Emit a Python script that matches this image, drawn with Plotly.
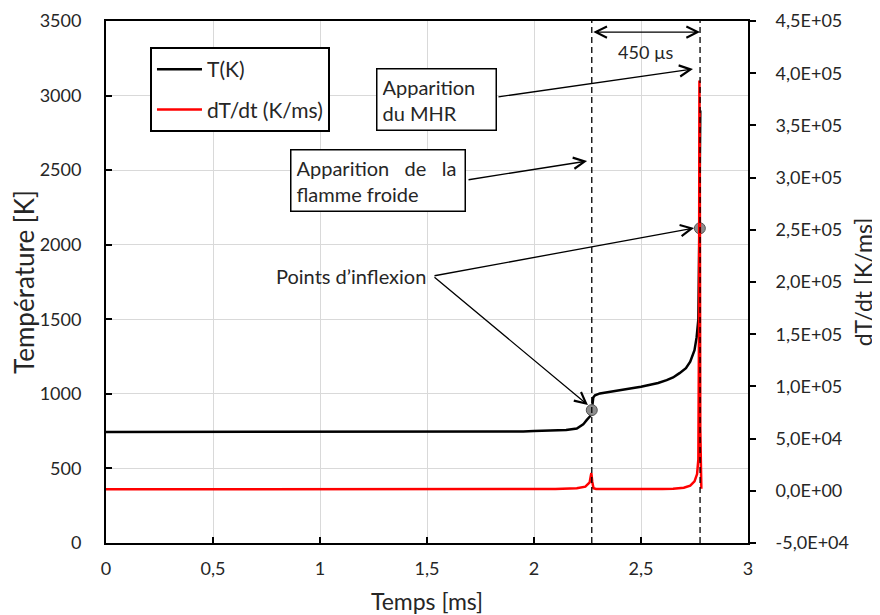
import plotly.graph_objects as go

# ---------------- data ----------------
t_T = [0.0, 0.5, 1.0, 1.5, 1.84, 1.95, 2.0, 2.1, 2.15, 2.2, 2.215, 2.23, 2.246, 2.262,
       2.27, 2.273, 2.277, 2.285, 2.308, 2.35, 2.386, 2.43, 2.464, 2.5, 2.54, 2.58,
       2.62, 2.65, 2.68, 2.71, 2.73, 2.75, 2.76, 2.768, 2.772, 2.775, 2.777]
T_vals = [745, 745, 745, 745, 746, 748, 751, 754, 757, 768, 780, 795, 824, 850,
          891, 945, 975, 990, 1003, 1012, 1019, 1029, 1039, 1048, 1059, 1073,
          1092, 1110, 1139, 1172, 1215, 1293, 1380, 1500, 2000, 2600, 2900]

t_dT = [0.0, 0.5, 1.0, 1.5, 2.0, 2.1, 2.2, 2.24, 2.26, 2.268, 2.272, 2.278, 2.29,
        2.4, 2.5, 2.6, 2.65, 2.7, 2.73, 2.75, 2.762, 2.768, 2.771, 2.773, 2.775,
        2.777, 2.779, 2.782]
dT_vals = [1500, 1500, 1500, 1500, 1600, 1800, 2500, 4000, 8000, 17000, 9000, 2500, 1800,
           1600, 1600, 1700, 2000, 3000, 5000, 9000, 16000, 30000, 150000, 393000, 300000,
           60000, 8000, 2000]

infl_t = [2.27, 2.775]
infl_T = [891, 2110]

x_tickvals = [0, 0.5, 1, 1.5, 2, 2.5, 3]
x_ticktext = ["0", "0,5", "1", "1,5", "2", "2,5", "3"]
y_tickvals = [0, 500, 1000, 1500, 2000, 2500, 3000, 3500]
y2_tickvals = [-50000, 0, 50000, 100000, 150000, 200000, 250000, 300000, 350000, 400000, 450000]
y2_ticktext = ["-5,0E+04", "0,0E+00", "5,0E+04", "1,0E+05", "1,5E+05", "2,0E+05",
               "2,5E+05", "3,0E+05", "3,5E+05", "4,0E+05", "4,5E+05"]

vlines_t = [2.27, 2.776]

FONT = "Lato"
TXT = "#262626"

fig = go.Figure()
fig.add_trace(go.Scatter(x=t_T, y=T_vals, mode="lines", name="T(K)", legendgroup="a",
                         line=dict(color="black", width=2.5)))
fig.add_trace(go.Scatter(x=t_dT, y=dT_vals, mode="lines", name="dT/dt (K/ms)", legendgroup="b",
                         line=dict(color="#FF0000", width=2.5), yaxis="y2"))
fig.add_trace(go.Scatter(x=infl_t, y=infl_T, mode="markers", showlegend=False,
                         marker=dict(color="#8C8C8C", size=11,
                                     line=dict(color="#555555", width=1))))

for vx in vlines_t:
    fig.add_shape(type="line", xref="x", yref="paper", x0=vx, x1=vx, y0=0, y1=1,
                  line=dict(color="black", width=1.3, dash="6px,4px"))

arrow = dict(showarrow=True, arrowhead=5, arrowsize=1.7, arrowwidth=1.3,
             arrowcolor="black", axref="x", ayref="y", xref="x", yref="y", text="")

ann = []
# double arrow 450 µs
ann.append(dict(arrow, x=vlines_t[1], y=3426, ax=vlines_t[0], ay=3426,
                arrowside="end+start", standoff=0, startstandoff=0))
ann.append(dict(x=(vlines_t[0] + vlines_t[1]) / 2, y=3290, xref="x", yref="y",
                text="450 µs", showarrow=False, font=dict(family=FONT, size=18, color=TXT)))
# MHR
ann.append(dict(arrow, x=2.743, y=3178, ax=1.827, ay=2990))
ann.append(dict(x=1.262, y=3185, xref="x", yref="y", xanchor="left", yanchor="top",
                text="Apparition<br>du MHR", showarrow=False, align="left",
                width=108,
                bordercolor="black", borderwidth=1.5, borderpad=5, bgcolor="white",
                font=dict(family=FONT, size=20, color=TXT)))
# flamme froide
ann.append(dict(arrow, x=2.248, y=2561, ax=1.687, ay=2434))
ann.append(dict(x=0.86, y=2640, xref="x", yref="y", xanchor="left", yanchor="top",
                text="Apparition\u00a0\u00a0 de\u00a0\u00a0 la<br>flamme froide",
                showarrow=False, align="left", width=163,
                bordercolor="black", borderwidth=1.5, borderpad=5, bgcolor="white",
                font=dict(family=FONT, size=20, color=TXT)))
# Points d'inflexion
ann.append(dict(arrow, x=2.252, y=925, ax=1.528, ay=1790))
ann.append(dict(arrow, x=2.748, y=2112, ax=1.528, ay=1790))
ann.append(dict(x=1.505, y=1790, xref="x", yref="y", xanchor="right", yanchor="middle",
                text="Points d\u2019inflexion", showarrow=False,
                font=dict(family=FONT, size=20, color=TXT)))

fig.update_layout(
    width=872, height=607,
    margin=dict(l=98, r=132, t=13, b=72),
    paper_bgcolor="white", plot_bgcolor="white",
    font=dict(family=FONT, size=18, color=TXT),
    annotations=ann,
    legend=dict(x=0.0685, y=0.95, xanchor="left", yanchor="top",
                bordercolor="black", borderwidth=2, bgcolor="white",
                traceorder="grouped", tracegroupgap=10, itemwidth=45,
                font=dict(family=FONT, size=21, color=TXT)),
    xaxis=dict(range=[0, 3], tickvals=x_tickvals, ticktext=x_ticktext, automargin=False,
               showgrid=True, gridcolor="#D9D9D9", gridwidth=1,
               showline=True, linecolor="black", linewidth=2, mirror=True,
               ticks="inside", ticklen=6, tickwidth=2, tickcolor="black",
               zeroline=False, title=dict(text="Temps [ms]", font=dict(size=23), standoff=19),
               ticklabelstandoff=8),
    yaxis=dict(range=[0, 3500], tickvals=y_tickvals, automargin=False,
               showgrid=True, gridcolor="#D9D9D9", gridwidth=1,
               showline=True, linecolor="black", linewidth=2, mirror=True,
               ticks="inside", ticklen=6, tickwidth=2, tickcolor="black",
               zeroline=False, title=dict(text="Température [K]", font=dict(size=26), standoff=7),
               ticklabelstandoff=19),
    yaxis2=dict(range=[-50000, 450000], tickvals=y2_tickvals, ticktext=y2_ticktext,
                overlaying="y", side="right", showgrid=False, zeroline=False, automargin=False,
                showline=True, linecolor="black", linewidth=2,
                ticks="outside", ticklen=6, tickwidth=2, tickcolor="black",
                title=dict(text="dT/dt [K/ms]", font=dict(size=23), standoff=8),
                ticklabelstandoff=16),
)

fig.write_html("out.html")
